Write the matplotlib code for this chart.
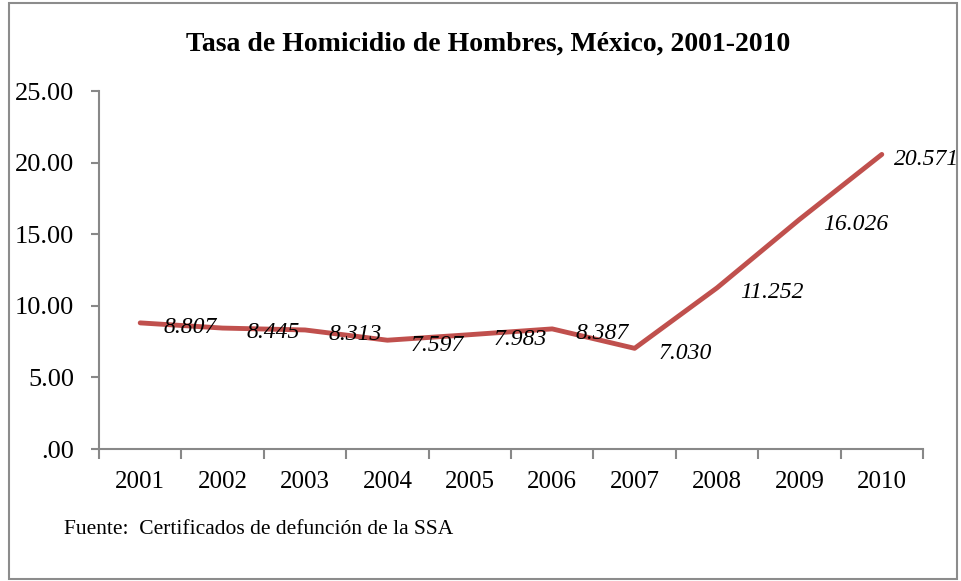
import matplotlib
matplotlib.use("Agg")
import matplotlib.pyplot as plt
from matplotlib.patches import Rectangle
from matplotlib.ticker import FixedLocator, NullFormatter

years = ["2001", "2002", "2003", "2004", "2005", "2006", "2007", "2008", "2009", "2010"]
rates = [8.807, 8.445, 8.313, 7.597, 7.983, 8.387, 7.030, 11.252, 16.026, 20.571]
rate_labels = ["8.807", "8.445", "8.313", "7.597", "7.983", "8.387", "7.030", "11.252", "16.026", "20.571"]
y_ticks = [0, 5, 10, 15, 20, 25]
y_tick_labels = [".00", "5.00", "10.00", "15.00", "20.00", "25.00"]
title = "Tasa de Homicidio de Hombres, México, 2001-2010"
source = "Fuente:  Certificados de defunción de la SSA"

plt.rcParams["font.family"] = ["Liberation Serif", "DejaVu Serif"]

W, H = 962, 581
fig = plt.figure(figsize=(W / 100, H / 100), dpi=100)
fig.patch.set_facecolor("white")

# outer border
fig.add_artist(Rectangle((9 / W, 2 / H), (957 - 9) / W, (578 - 2) / H,
                         transform=fig.transFigure, fill=False,
                         edgecolor="#8c8c8c", linewidth=1.5))

ax_l, ax_r, ax_t, ax_b = 99, 923, 91, 449
ax = fig.add_axes([ax_l / W, (H - ax_b) / H, (ax_r - ax_l) / W, (ax_b - ax_t) / H])

x = list(range(len(years)))
ax.plot(x, rates, color="#C0504D", linewidth=3.5, solid_capstyle="round", solid_joinstyle="round")

for i, (xi, yi, lab) in enumerate(zip(x, rates, rate_labels)):
    dx = 9 if i == len(x) - 1 else 17
    ax.annotate(lab, (xi, yi), xytext=(dx, -3.5), textcoords="offset points",
                ha="left", va="center", fontsize=17, fontstyle="italic", color="black")

ax.set_xlim(-0.5, len(years) - 0.5)
ax.set_ylim(0, 25)

for s in ["top", "right"]:
    ax.spines[s].set_visible(False)
for s in ["left", "bottom"]:
    ax.spines[s].set_color("#888888")
    ax.spines[s].set_linewidth(1.5)

ax.set_yticks(y_ticks)
ax.set_yticklabels(y_tick_labels, fontsize=19)
ax.tick_params(axis="y", direction="out", length=6, width=1.5, color="#888888", pad=12)

ax.xaxis.set_major_locator(FixedLocator([v - 0.5 for v in range(len(years) + 1)]))
ax.xaxis.set_major_formatter(NullFormatter())
ax.set_xticks(x, minor=True)
ax.set_xticklabels(years, minor=True, fontsize=18)
ax.tick_params(axis="x", which="major", direction="out", length=7, width=1.5, color="#888888")
ax.tick_params(axis="x", which="minor", length=0, pad=16)

fig.text(488 / W, 1 - 44 / H, title, ha="center", va="center", fontsize=20, fontweight="bold")
fig.text(64 / W, 1 - 530 / H, source, ha="left", va="center", fontsize=15.5)

fig.savefig("out.png", dpi=100)
